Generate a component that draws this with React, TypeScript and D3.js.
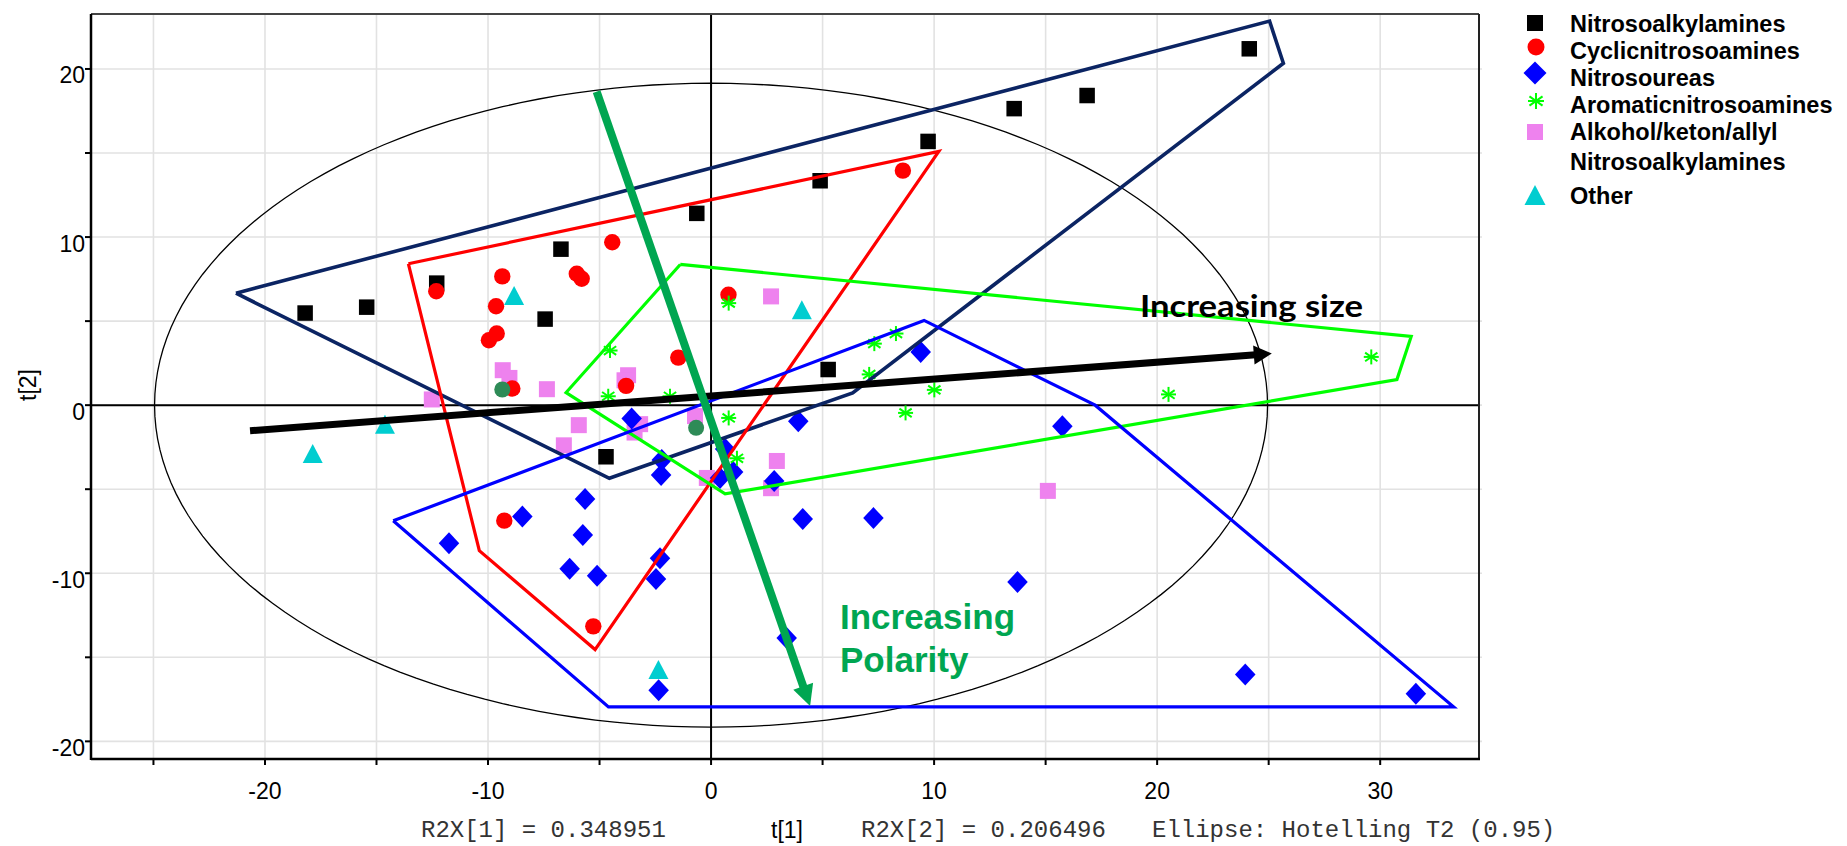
import React from "react";
import * as d3 from "d3";

type P = [number, number];

// ---- data (t[1], t[2]) ----
const nitrosoalkylamines: P[] = [
  [-18.2, 5.48], [-15.44, 5.83], [-12.3, 7.26], [-6.73, 9.28], [-7.44, 5.12],
  [-0.64, 11.41], [4.89, 13.35], [9.73, 15.69], [5.25, 2.12], [13.59, 17.64],
  [16.86, 18.42], [24.13, 21.2], [-4.71, -3.07],
];
const cyclicnitrosoamines: P[] = [
  [-12.32, 6.78], [-9.36, 7.66], [-9.64, 5.88], [-9.61, 4.26], [-9.96, 3.86],
  [-8.91, 0.99], [-4.43, 9.69], [-6.02, 7.82], [-5.8, 7.52], [0.78, 6.57],
  [-1.47, 2.83], [-3.81, 1.15], [8.6, 13.95], [-9.27, -6.87], [-5.28, -13.16],
];
const nitrosoureas: P[] = [
  [-11.75, -8.21], [-8.46, -6.63], [-5.65, -5.58], [-5.75, -7.72], [-6.34, -9.73],
  [-5.11, -10.15], [-2.29, -9.1], [-2.47, -10.34], [-2.35, -16.96], [-2.21, -3.26],
  [-2.24, -4.15], [4.11, -6.77], [7.28, -6.72], [3.39, -13.85], [3.91, -0.95],
  [-3.56, -0.8], [0.63, -2.61], [0.4, -4.33], [0.99, -3.98], [9.4, 3.16],
  [2.83, -4.51], [15.75, -1.25], [13.74, -10.52], [23.95, -16.02], [31.6, -17.17],
];
const aromaticnitrosoamines: P[] = [
  [0.79, 6.07], [-4.53, 3.25], [-4.61, 0.53], [-1.84, 0.53], [7.32, 3.66],
  [8.29, 4.26], [7.09, 1.83], [10.01, 0.91], [8.72, -0.46], [0.79, -0.76],
  [1.16, -3.16], [20.51, 0.64], [29.6, 2.87],
];
const alkoholNitrosoalkylamines: P[] = [
  [-9.34, 2.08], [-9.04, 1.62], [-12.52, 0.34], [-7.36, 0.95], [-3.72, 1.78],
  [-3.88, 1.48], [-5.93, -1.19], [-6.6, -2.39], [-3.18, -1.13], [-3.43, -1.63],
  [-0.72, -0.65], [-0.19, -4.33], [2.69, 6.47], [2.95, -3.32], [2.69, -4.94],
  [15.1, -5.1],
];
const other: P[] = [
  [-8.83, 6.53], [-14.62, -1.13], [-17.86, -2.87], [4.07, 5.68], [-2.36, -15.73],
];
const unlabeled: P[] = [[-9.36, 0.93], [-0.67, -1.35]];

// group outlines
const hullNitrosoalkylamines: P[] = [[-21.3, 6.66], [25.04, 22.85], [25.66, 20.34], [6.35, 0.73], [-4.56, -4.35]];
const hullCyclic: P[] = [[-13.57, 8.41], [10.21, 15.09], [-5.2, -14.54], [-10.39, -8.66]];
const hullAromatic: P[] = [[-1.38, 8.37], [31.39, 4.09], [30.75, 1.52], [0.63, -5.28], [-6.5, 0.75]];
const hullNitrosoureas: P[] = [[-14.25, -6.88], [9.55, 5.04], [17.22, 0.0], [33.29, -17.95], [-4.6, -17.95]];

const arrowSize: P[] = [[-20.67, -1.52], [25.14, 3.07]];
const arrowPolarity: P[] = [[-5.13, 18.65], [4.44, -17.9]];

const ellipseRadii: P = [24.95, 19.15];

const xTicks = [-25, -20, -15, -10, -5, 0, 5, 10, 15, 20, 25, 30];
const yTicks = [-20, -15, -10, -5, 0, 5, 10, 15, 20];
const xTickLabels = [-20, -10, 0, 10, 20, 30];
const yTickLabels = [-20, -10, 0, 10, 20];

const legendLabels = [
  "Nitrosoalkylamines",
  "Cyclicnitrosoamines",
  "Nitrosoureas",
  "Aromaticnitrosoamines",
  "Alkohol/keton/allyl",
  "Other",
];

const SANS = "'Liberation Sans', Arial, sans-serif";
const MONO = "'Courier New', 'Liberation Mono', monospace";

const x = d3.scaleLinear().domain([-27.8, 34.43]).range([91, 1479]);
const y = d3.scaleLinear().domain([-21.05, 23.27]).range([759, 14]);

function square(cx: number, cy: number, s: number, fill: string, key: string) {
  return <rect key={key} x={cx - s / 2} y={cy - s / 2} width={s} height={s} fill={fill} />;
}
function diamond(cx: number, cy: number, w: number, h: number, key: string) {
  const d = `M${cx},${cy - h / 2}L${cx + w / 2},${cy}L${cx},${cy + h / 2}L${cx - w / 2},${cy}Z`;
  return <path key={key} d={d} fill="#0000ff" />;
}
function triangle(cx: number, cy: number, w: number, h: number, key: string) {
  const d = `M${cx},${cy - h / 2}L${cx + w / 2},${cy + h / 2}L${cx - w / 2},${cy + h / 2}Z`;
  return <path key={key} d={d} fill="#00cdd0" />;
}
function asterisk(cx: number, cy: number, r: number, key: string) {
  const angles = [90, 35, -35, 0];
  return (
    <g key={key} stroke="#00ff00" strokeWidth={2}>
      {angles.map((a, i) => {
        const rad = (a * Math.PI) / 180;
        const dx = Math.cos(rad) * r, dy = Math.sin(rad) * r;
        return <line key={i} x1={cx - dx} y1={cy - dy} x2={cx + dx} y2={cy + dy} />;
      })}
    </g>
  );
}

function arrow(pts: P[], color: string, width: number, headLen: number, headHalf: number) {
  const [a, b] = pts;
  const x1 = x(a[0]), y1 = y(a[1]), x2 = x(b[0]), y2 = y(b[1]);
  const L = Math.hypot(x2 - x1, y2 - y1);
  const ux = (x2 - x1) / L, uy = (y2 - y1) / L;
  const bx = x2 - ux * headLen, by = y2 - uy * headLen;
  const px = -uy, py = ux;
  const head = `M${x2},${y2}L${bx + px * headHalf},${by + py * headHalf}L${bx - px * headHalf},${by - py * headHalf}Z`;
  return (
    <g>
      <line x1={x1} y1={y1} x2={bx + ux * 2} y2={by + uy * 2} stroke={color} strokeWidth={width} />
      <path d={head} fill={color} />
    </g>
  );
}

export default function App() {
  const line = d3.line<P>().x((d) => x(d[0])).y((d) => y(d[1]));
  const ellipsePts: P[] = d3.range(0, 361, 2).map((deg) => {
    const t = (deg * Math.PI) / 180;
    return [ellipseRadii[0] * Math.cos(t), ellipseRadii[1] * Math.sin(t)] as P;
  });
  const hull = (pts: P[], color: string, w: number) => (
    <path d={line([...pts, pts[0]]) || ""} fill="none" stroke={color} strokeWidth={w} strokeLinejoin="miter" />
  );

  const x0 = x.range()[0], x1 = x.range()[1];
  const yTop = y.range()[1], yBot = y.range()[0];

  return (
    <svg width={1847} height={846} style={{ position: "absolute", left: 0, top: 0, background: "#fff" }}>
      {/* grid */}
      <g stroke="#e2e2e2" strokeWidth={1.6}>
        {xTicks.map((t) => <line key={"gx" + t} x1={x(t)} x2={x(t)} y1={yTop} y2={yBot} />)}
        {yTicks.map((t) => <line key={"gy" + t} x1={x0} x2={x1 + 3} y1={y(t)} y2={y(t)} />)}
      </g>
      {/* ellipse */}
      <path d={line(ellipsePts) || ""} fill="none" stroke="#000" strokeWidth={1.3} />
      {/* zero lines */}
      <line x1={x(0)} x2={x(0)} y1={yTop} y2={yBot} stroke="#000" strokeWidth={2} />
      <line x1={x0} x2={x1} y1={y(0)} y2={y(0)} stroke="#000" strokeWidth={2} />
      {/* frame */}
      <line x1={x0} x2={x1} y1={yTop} y2={yTop} stroke="#444" strokeWidth={2} />
      <line x1={x1} x2={x1} y1={yTop} y2={yBot} stroke="#222" strokeWidth={2} />
      <line x1={x0} x2={x0} y1={yTop} y2={yBot + 1} stroke="#000" strokeWidth={2.5} />
      <line x1={x0} x2={x1 + 1} y1={yBot} y2={yBot} stroke="#000" strokeWidth={2.5} />
      {/* ticks */}
      <g stroke="#000" strokeWidth={2}>
        {xTicks.map((t) => <line key={"tx" + t} x1={x(t)} x2={x(t)} y1={yBot} y2={yBot + 6} />)}
        {yTicks.map((t) => <line key={"ty" + t} x1={x0 - 6} x2={x0} y1={y(t)} y2={y(t)} />)}
      </g>
      <g fontFamily={SANS} fontSize={23} fill="#000">
        {xTickLabels.map((t) => (
          <text key={"lx" + t} x={x(t)} y={yBot + 40} textAnchor="middle">{t}</text>
        ))}
        {yTickLabels.map((t) => (
          <text key={"ly" + t} x={85} y={y(t) + 14.5} textAnchor="end">{t}</text>
        ))}
      </g>
      <text x={0} y={0} transform="translate(36,385) rotate(-90)" textAnchor="middle" fontFamily={SANS} fontSize={23}>t[2]</text>
      <text x={787} y={838} textAnchor="middle" fontFamily={SANS} fontSize={23}>t[1]</text>
      <g fontFamily={MONO} fontSize={24} fill="#333">
        <text x={421} y={837}>R2X[1] = 0.348951</text>
        <text x={861} y={837}>R2X[2] = 0.206496</text>
        <text x={1152} y={837}>Ellipse: Hotelling T2 (0.95)</text>
      </g>

      {/* points */}
      <g>
        {nitrosoalkylamines.map((d, i) => square(x(d[0]), y(d[1]), 15.5, "#000", "na" + i))}
        {alkoholNitrosoalkylamines.map((d, i) => square(x(d[0]), y(d[1]), 16, "#ee82ee", "al" + i))}
        {cyclicnitrosoamines.map((d, i) => <circle key={"cy" + i} cx={x(d[0])} cy={y(d[1])} r={8.2} fill="#ff0000" />)}
        {nitrosoureas.map((d, i) => diamond(x(d[0]), y(d[1]), 20.5, 22, "nu" + i))}
        {aromaticnitrosoamines.map((d, i) => asterisk(x(d[0]), y(d[1]), 7.5, "ar" + i))}
        {other.map((d, i) => triangle(x(d[0]), y(d[1]), 20, 19, "ot" + i))}
        {unlabeled.map((d, i) => <circle key={"un" + i} cx={x(d[0])} cy={y(d[1])} r={8} fill="#2e8b57" />)}
      </g>

      {/* group outlines */}
      {hull(hullNitrosoalkylamines, "#0b2463", 3.6)}
      {hull(hullCyclic, "#ff0000", 3.2)}
      {hull(hullAromatic, "#00ff00", 3.2)}
      {hull(hullNitrosoureas, "#0000ff", 3.2)}

      {/* arrows */}
      {arrow(arrowSize, "#000", 7, 18, 9.5)}
      {arrow(arrowPolarity, "#00a651", 8, 21, 10.5)}

      <text x={x(19.23)} y={y(5.25)} fontFamily="Lato, 'Open Sans', sans-serif" fontWeight="bold" fontSize={31} textLength={223} lengthAdjust="spacingAndGlyphs" fill="#000">Increasing size</text>
      <g fontFamily={SANS} fontWeight="bold" fontSize={35} fill="#00a651">
        <text x={x(5.78)} y={y(-13.29)}>Increasing</text>
        <text x={x(5.78)} y={y(-15.87)}>Polarity</text>
      </g>

      {/* legend */}
      <g>
        {square(1535, 23, 16, "#000", "lg0")}
        <circle cx={1536} cy={47} r={8.5} fill="#ff0000" />
        {diamond(1535, 73, 23, 23, "lg2")}
        {asterisk(1536, 101, 8, "lg3")}
        {square(1535, 132, 16, "#ee82ee", "lg4")}
        {triangle(1535, 195, 21, 20, "lg5")}
      </g>
      <g fontFamily={SANS} fontWeight="bold" fontSize={23.5} fill="#000">
        <text x={1570} y={31.5}>{legendLabels[0]}</text>
        <text x={1570} y={59}>{legendLabels[1]}</text>
        <text x={1570} y={86}>{legendLabels[2]}</text>
        <text x={1570} y={112.5}>{legendLabels[3]}</text>
        <text x={1570} y={140}>{legendLabels[4]}</text>
        <text x={1570} y={170}>{legendLabels[0]}</text>
        <text x={1570} y={204}>{legendLabels[5]}</text>
      </g>
    </svg>
  );
}
